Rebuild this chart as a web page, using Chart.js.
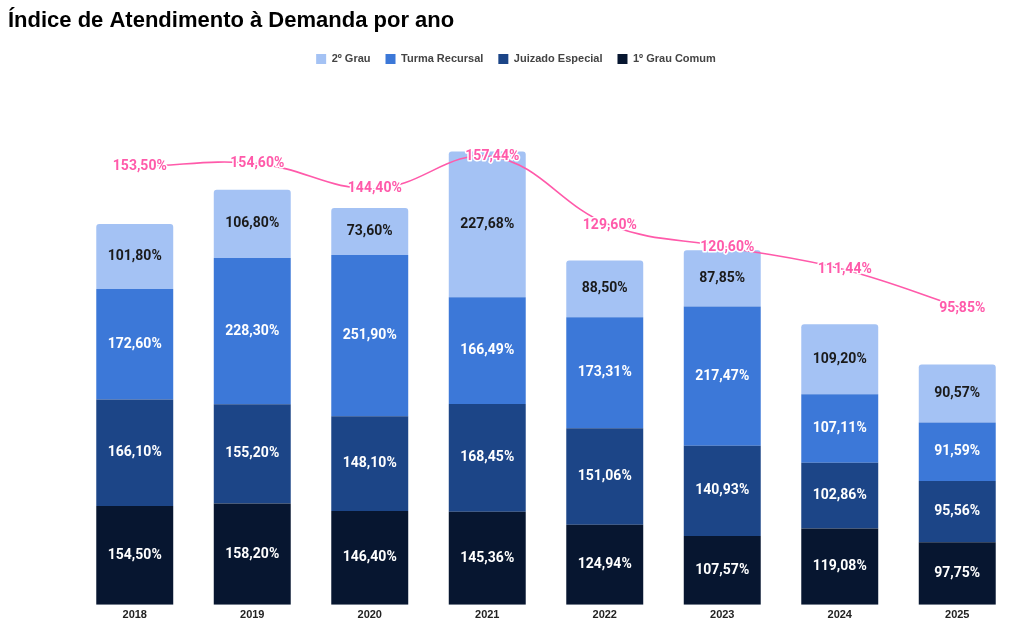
<!DOCTYPE html>
<html>
<head>
<meta charset="utf-8">
<script src="https://cdn.jsdelivr.net/npm/chart.js@4/dist/chart.umd.min.js"></script>
<style>
  html, body { margin: 0; padding: 0; background: #fff; }
  #wrap { width: 1024px; height: 632px; position: relative; }
</style>
</head>
<body>
<div id="wrap"><canvas id="chart"></canvas></div>
<script>
const anos         = ['2018', '2019', '2020', '2021', '2022', '2023', '2024', '2025'];
const primeiroGrau = [154.50, 158.20, 146.40, 145.36, 124.94, 107.57, 119.08, 97.75];
const juizado      = [166.10, 155.20, 148.10, 168.45, 151.06, 140.93, 102.86, 95.56];
const turma        = [172.60, 228.30, 251.90, 166.49, 173.31, 217.47, 107.11, 91.59];
const segundoGrau  = [101.80, 106.80, 73.60, 227.68, 88.50, 87.85, 109.20, 90.57];
const indiceGeral  = [153.50, 154.60, 144.40, 157.44, 129.60, 120.60, 111.44, 95.85];

const fmt = v => v.toFixed(2).replace('.', ',') + '%';

// Rótulos dentro das barras e sobre a linha (sem plugin externo).
const rotulosPlugin = {
  id: 'rotulos',
  afterDatasetsDraw(c) {
    const ctx = c.ctx;
    ctx.save();
    ctx.textAlign = 'center';
    ctx.textBaseline = 'middle';
    c.data.datasets.forEach((ds, di) => {
      const meta = c.getDatasetMeta(di);
      if (meta.hidden) return;
      meta.data.forEach((el, i) => {
        ctx.font = 'bold 14px Roboto, sans-serif';
        if (ds.type === 'line') {
          const txt = fmt(ds.data[i].y);
          ctx.lineJoin = 'round';
          ctx.lineWidth = 3;
          ctx.strokeStyle = '#ffffff';
          ctx.strokeText(txt, el.x, el.y);
          ctx.fillStyle = '#ff5aaa';
          ctx.fillText(txt, el.x, el.y);
        } else {
          ctx.fillStyle = ds.labelColor;
          ctx.fillText(fmt(ds.data[i]), el.x, (el.y + el.base) / 2);
        }
      });
    });
    ctx.restore();
  }
};

const barra = (label, data, cor, textoCor, extra) => Object.assign({
  type: 'bar', label, data, backgroundColor: cor, labelColor: textoCor,
  borderWidth: 0, yAxisID: 'y', xAxisID: 'x', order: 1, stack: 's', grouped: false,
  categoryPercentage: 1, barPercentage: 0.655
}, extra || {});

new Chart(document.getElementById('chart'), {
  data: {
    labels: anos,
    datasets: [
      barra('1º Grau Comum', primeiroGrau, '#071630', '#ffffff'),
      barra('Juizado Especial', juizado, '#1c4587', '#ffffff'),
      barra('Turma Recursal', turma, '#3c78d8', '#ffffff'),
      barra('2º Grau', segundoGrau, '#a4c2f4', '#1a1a1a', { borderRadius: 3, borderSkipped: 'bottom' }),
      {
        type: 'line', label: 'Índice', yAxisID: 'y1', xAxisID: 'x2', order: 0,
        data: indiceGeral.map((v, i) => ({ x: i, y: v })),
        borderColor: '#ff5aaa', backgroundColor: '#ff5aaa', borderWidth: 1.6,
        pointRadius: 0, tension: 0.4, fill: false
      }
    ]
  },
  plugins: [rotulosPlugin],
  options: {
    responsive: true, maintainAspectRatio: false, animation: false,
    layout: { padding: { left: 8, right: 0, top: 8, bottom: 6 } },
    plugins: {
      title: {
        display: true, text: 'Índice de Atendimento à Demanda por ano', align: 'start',
        color: '#000', font: { family: '"Liberation Sans", Arial, sans-serif', size: 22, weight: 'bold' },
        padding: { top: 0, bottom: 4 }
      },
      legend: {
        display: true, reverse: true,
        labels: {
          filter: item => item.text !== 'Índice',
          boxWidth: 10, boxHeight: 10, padding: 15, color: '#444',
          font: { family: '"Liberation Sans", Arial, sans-serif', size: 11, weight: 'bold' }
        }
      },
      tooltip: { enabled: false }
    },
    scales: {
      x: {
        type: 'category', stacked: true,
        grid: { display: false, drawTicks: false }, border: { display: false },
        ticks: { color: '#222', padding: 4, font: { family: '"Liberation Sans", Arial, sans-serif', size: 11, weight: 'bold' } }
      },
      x2: { type: 'linear', display: false, min: -0.543, max: 7.457 },
      y: {
        stacked: true, min: 0, max: 828.6,
        afterFit(a) { a.width = 68; },
        ticks: { display: false }, grid: { display: false }, border: { display: false }
      },
      y1: {
        position: 'right', min: -24.9, max: 190.9,
        afterFit(a) { a.width = 8; },
        ticks: { display: false }, grid: { display: false }, border: { display: false }
      }
    }
  }
});
</script>
</body>
</html>
